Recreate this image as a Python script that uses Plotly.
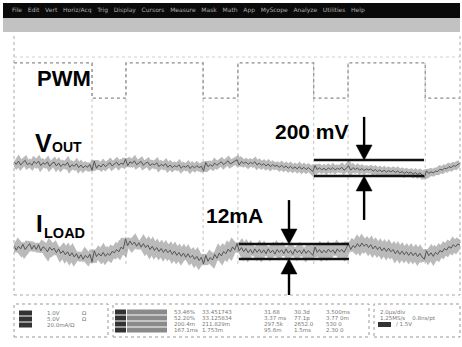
import plotly.graph_objects as go

# ---------------- data (screen divisions) ----------------
dt = 0.05  # sample spacing in divisions
vout = [4.10, 4.02, 4.12, 4.00, 4.08, 4.14, 4.01, 4.06, 3.99, 4.11,
        4.04, 4.12, 3.98, 4.07, 4.02, 4.10, 3.96, 4.05, 4.09, 3.97,
        4.06, 3.95, 4.03, 3.99, 4.08, 3.93, 4.01, 3.96, 4.04, 3.92,
        4.00, 3.91, 3.98, 3.93, 4.02, 3.84, 4.12, 3.90, 4.00, 3.94,
        4.03, 3.95, 4.01, 4.07, 3.97, 4.04, 4.09, 3.99, 4.06, 4.02,
        4.18, 3.98, 4.10, 4.05, 4.13, 4.01, 4.07, 4.11, 3.99, 4.06,
        4.09, 3.98, 4.04, 4.00, 4.07, 3.95, 4.02, 3.97, 4.04, 3.93,
        4.00, 3.92, 3.98, 3.94, 4.01, 3.90, 3.97, 3.93, 3.99, 3.89,
        3.97, 3.91, 3.98, 3.92, 3.96, 3.82, 4.08, 3.95, 4.01, 3.96,
        4.06, 3.99, 4.05, 4.10, 4.01, 4.08, 4.13, 4.03, 4.09, 4.12,
        4.16, 4.00, 4.11, 4.05, 4.09, 4.02, 4.08, 4.04, 4.10, 4.00,
        4.06, 3.99, 4.04, 3.97, 4.03, 3.95, 4.01, 3.96, 3.99, 3.93,
        3.99, 3.92, 3.97, 3.90, 3.96, 3.89, 3.94, 3.88, 3.95, 3.87,
        3.93, 3.86, 3.92, 3.87, 3.80, 3.98, 3.86, 3.91, 3.85, 3.90,
        3.84, 3.91, 3.86, 3.92, 3.85, 3.90, 3.87, 3.93, 3.84, 3.89,
        3.98, 3.84, 3.92, 3.86, 3.91, 3.84, 3.89, 3.83, 3.88, 3.85,
        3.88, 3.81, 3.86, 3.80, 3.85, 3.79, 3.84, 3.78, 3.83, 3.79,
        3.83, 3.77, 3.82, 3.76, 3.80, 3.74, 3.79, 3.75, 3.78, 3.72,
        3.77, 3.71, 3.76, 3.70, 3.62, 3.82, 3.74, 3.79, 3.76, 3.81,
        3.80, 3.87, 3.84, 3.90, 3.88, 3.95, 3.92, 3.98, 3.96, 4.02,
        4.05]
iload = [1.52, 1.38, 1.50, 1.42, 1.56, 1.40, 1.49, 1.58, 1.41, 1.53,
         1.40, 1.55, 1.36, 1.48, 1.43, 1.33, 1.47, 1.38, 1.44, 1.30,
         1.42, 1.28, 1.36, 1.24, 1.33, 1.20, 1.30, 1.17, 1.27, 1.12,
         1.24, 1.10, 1.22, 1.14, 1.26, 1.02, 1.36, 1.18, 1.28, 1.20,
         1.31, 1.19, 1.28, 1.22, 1.34, 1.30, 1.40, 1.33, 1.47, 1.42,
         1.72, 1.52, 1.66, 1.55, 1.63, 1.50, 1.61, 1.47, 1.58, 1.46,
         1.54, 1.40, 1.50, 1.37, 1.46, 1.34, 1.43, 1.31, 1.41, 1.30,
         1.38, 1.25, 1.35, 1.22, 1.31, 1.19, 1.29, 1.16, 1.27, 1.15,
         1.22, 1.10, 1.19, 1.06, 1.16, 0.96, 1.22, 1.04, 1.15, 1.08,
         1.25, 1.13, 1.29, 1.20, 1.34, 1.27, 1.41, 1.33, 1.48, 1.39,
         1.58, 1.36, 1.46, 1.33, 1.43, 1.30, 1.40, 1.28, 1.42, 1.31,
         1.41, 1.29, 1.39, 1.27, 1.42, 1.30, 1.38, 1.26, 1.40, 1.31,
         1.39, 1.27, 1.42, 1.29, 1.37, 1.25, 1.41, 1.30, 1.38, 1.27,
         1.40, 1.28, 1.37, 1.30, 1.22, 1.48, 1.31, 1.40, 1.29, 1.38,
         1.30, 1.41, 1.32, 1.39, 1.28, 1.42, 1.33, 1.40, 1.31, 1.44,
         1.58, 1.40, 1.52, 1.46, 1.58, 1.48, 1.60, 1.50, 1.57, 1.46,
         1.55, 1.42, 1.51, 1.40, 1.48, 1.36, 1.45, 1.34, 1.44, 1.33,
         1.40, 1.27, 1.37, 1.25, 1.35, 1.24, 1.33, 1.22, 1.32, 1.21,
         1.30, 1.18, 1.28, 1.17, 1.10, 1.36, 1.21, 1.30, 1.19, 1.31,
         1.25, 1.37, 1.32, 1.43, 1.38, 1.49, 1.44, 1.55, 1.48, 1.57,
         1.53]
t = [i * dt for i in range(len(vout))]

pwm_edges = [0.0, 1.75, 2.51, 4.24, 5.02, 6.72, 7.49, 9.22, 10.0]
pwm_levels = [7.14, 6.06, 7.14, 6.06, 7.14, 6.06, 7.14, 6.06, 6.06]

vout_cursor_t = [6.726, 9.193]
vout_cursor_levels = [4.154, 3.662]
iload_cursor_t = [5.04, 7.51]
iload_cursor_levels = [1.569, 1.108]

# arrow (x position, tail top, tail bottom) for each cursor pair
vout_arrow = [7.85, 5.48, 2.31]
iload_arrow = [6.166, 2.92, -0.30]

menu_items = ["File", "Edit", "Vert", "Horiz/Acq", "Trig", "Display", "Cursors",
              "Measure", "Mask", "Math", "App", "MyScope", "Analyze", "Utilities", "Help"]

W, H = 462, 347
def px(x):
    return x / W
def py(y):
    return 1 - y / H

fig = go.Figure()

# PWM extension dotted verticals
vx, vy = [], []
for e in pwm_edges[1:-1]:
    vx += [e, e, None]
    vy += [7.14, 0.9, None]
fig.add_trace(go.Scatter(x=vx, y=vy, mode="lines",
                         line=dict(color="#c0c0c0", width=1, dash="dot"),
                         hoverinfo="skip", showlegend=False))
# PWM
fig.add_trace(go.Scatter(x=pwm_edges, y=pwm_levels, mode="lines", line_shape="hv",
                         line=dict(color="#8a8a8a", width=1.2, dash="dot"),
                         showlegend=False))
# Vout band + core
fig.add_trace(go.Scatter(x=t, y=vout, mode="lines",
                         line=dict(color="rgba(140,140,140,0.6)", width=7),
                         showlegend=False))
fig.add_trace(go.Scatter(x=t, y=vout, mode="lines",
                         line=dict(color="#555555", width=1),
                         showlegend=False))
# Iload band + core
fig.add_trace(go.Scatter(x=t, y=iload, mode="lines",
                         line=dict(color="rgba(140,140,140,0.6)", width=10),
                         showlegend=False))
fig.add_trace(go.Scatter(x=t, y=iload, mode="lines",
                         line=dict(color="#555555", width=1),
                         showlegend=False))

# cursor lines
for lv in vout_cursor_levels:
    fig.add_trace(go.Scatter(x=vout_cursor_t, y=[lv, lv], mode="lines",
                             line=dict(color="#111", width=2.6), showlegend=False))
for lv in iload_cursor_levels:
    fig.add_trace(go.Scatter(x=iload_cursor_t, y=[lv, lv], mode="lines",
                             line=dict(color="#111", width=2.6), showlegend=False))

shapes = []
# arrows as shapes (shaft + filled head)
HL = 15 / 32.5   # head length (div)
HW = 8 / 44.6    # half width (div)
def add_arrow(x, tip, tail):
    d = 1 if tail > tip else -1
    base = tip + d * HL
    shapes.append(dict(type="line", xref="x", yref="y", x0=x, x1=x, y0=tail, y1=base,
                       line=dict(color="#000", width=2.4)))
    shapes.append(dict(type="path", xref="x", yref="y",
                       path=f"M {x} {tip} L {x - HW} {base} L {x + HW} {base} Z",
                       fillcolor="#000", line=dict(color="#000", width=0.5)))
add_arrow(vout_arrow[0], vout_cursor_levels[0], vout_arrow[1])
add_arrow(vout_arrow[0], vout_cursor_levels[1], vout_arrow[2])
add_arrow(iload_arrow[0], iload_cursor_levels[0], iload_arrow[1])
add_arrow(iload_arrow[0], iload_cursor_levels[1], iload_arrow[2])

# menu bar
shapes.append(dict(type="rect", xref="paper", yref="paper", x0=px(3), x1=px(460),
                   y0=py(18), y1=py(3), fillcolor="#0a0a0a", line=dict(width=0)))
shapes.append(dict(type="rect", xref="paper", yref="paper", x0=px(3), x1=px(460),
                   y0=py(32), y1=py(18), fillcolor="#c2c2c2", line=dict(width=0)))
# graticule border (dotted)
for (x0, y0, x1, y1, c) in [(14, 36, 14, 295, "#aaaaaa"), (460, 36, 460, 295, "#aaaaaa"),
                            (14, 295, 460, 295, "#aaaaaa"), (14, 57, 460, 57, "#d0d0d0")]:
    shapes.append(dict(type="line", xref="paper", yref="paper", x0=px(x0), x1=px(x1),
                       y0=py(y0), y1=py(y1), line=dict(color=c, width=1, dash="dot")))
# info panels
for (x0, x1) in [(14, 108), (113, 369), (374, 460)]:
    shapes.append(dict(type="rect", xref="paper", yref="paper", x0=px(x0), x1=px(x1),
                       y0=py(337), y1=py(304), line=dict(color="#999", width=1, dash="dot")))
# dark blocks
for yy in [313, 319, 325]:
    shapes.append(dict(type="rect", xref="paper", yref="paper", x0=px(19), x1=px(32),
                       y0=py(yy + 2.5), y1=py(yy - 2.5), fillcolor="#333", line=dict(width=0)))
for yy in [312, 318, 324, 330]:
    shapes.append(dict(type="rect", xref="paper", yref="paper", x0=px(115), x1=px(126),
                       y0=py(yy + 2.5), y1=py(yy - 2.5), fillcolor="#333", line=dict(width=0)))
    shapes.append(dict(type="rect", xref="paper", yref="paper", x0=px(127), x1=px(167),
                       y0=py(yy + 2.5), y1=py(yy - 2.5), fillcolor="#8a8a8a", line=dict(width=0)))
shapes.append(dict(type="rect", xref="paper", yref="paper", x0=px(378), x1=px(391),
                   y0=py(327), y1=py(322), fillcolor="#333", line=dict(width=0)))

ann = []
# menu text
ann.append(dict(xref="paper", yref="paper", x=px(10), y=py(10.5), xanchor="left", yanchor="middle",
                text="   ".join(menu_items), showarrow=False,
                font=dict(size=6, color="#aaaaaa", family="DejaVu Sans")))

FAM = "Liberation Sans, Arial"
def label(x, y, s, size):
    ann.append(dict(x=x, y=y, xanchor="left", yanchor="middle", showarrow=False,
                    text=f"<b>{s}</b>", font=dict(family=FAM, size=size, color="#000")))
label(0.47, 6.65, "PWM", 22)
label(0.43, 4.665, "V", 25)
label(0.81, 4.554, "OUT", 14)
label(0.45, 2.185, "I", 24)
label(0.62, 1.923, "LOAD", 14.5)
label(5.807, 5.046, "200 mV", 21)
label(4.26, 2.446, "12mA", 21)

small = dict(size=5.5, color="#777", family="DejaVu Sans")
def sm(x, y, s):
    ann.append(dict(xref="paper", yref="paper", x=px(x), y=py(y), xanchor="left", yanchor="middle",
                    text=s, showarrow=False, font=small))
sm(45, 313, "1.0V"); sm(80, 313, "Ω"); sm(45, 319, "5.0V"); sm(80, 319, "Ω")
sm(45, 325, "20.0mA/Ω")
vals1 = ["53.46%", "52.20%", "200.4m", "167.1ms"]
vals2 = ["33.451743", "33.125834", "211.829m", "1.753m"]
vals3 = ["31.68", "3.37 ms", "297.5k", "95.6m"]
vals4 = ["30.3d", "77.1p", "2652.0", "1.5ms"]
vals5 = ["3.500ms", "3.77 0m", "530 0", "2.30 0"]
for i, yy in enumerate([312, 318, 324, 330]):
    sm(172, yy, vals1[i]); sm(200, yy, vals2[i]); sm(262, yy, vals3[i])
    sm(292, yy, vals4[i]); sm(324, yy, vals5[i])
sm(378, 312, "2.0µs/div"); sm(378, 318, "1.25MS/s    0.8ns/pt"); sm(394, 324, "/ 1.5V")

fig.update_layout(
    width=W, height=H, margin=dict(l=0, r=0, t=0, b=0),
    paper_bgcolor="white", plot_bgcolor="white",
    xaxis=dict(domain=[14 / W, 460 / W], range=[0, 10], visible=False),
    yaxis=dict(domain=[1 - 295 / H, 1 - 35 / H], range=[0, 8], visible=False),
    shapes=shapes, annotations=ann, showlegend=False,
)
fig.write_html("out.html")
